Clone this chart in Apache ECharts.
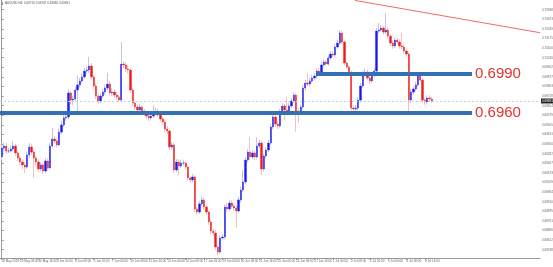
<!DOCTYPE html>
<html><head><meta charset="utf-8">
<script src="https://cdn.jsdelivr.net/npm/echarts@6/dist/echarts.min.js"></script>
<style>html,body{margin:0;padding:0;background:#fff;}#c{width:553px;height:267px;}</style>
</head><body><div id="c"></div>
<script>
const timeLabels = ["28 May 2019","29 May 08:00","30 May 16:00","3 Jun 00:00","4 Jun 08:00","5 Jun 16:00","7 Jun 00:00","10 Jun 08:00","11 Jun 16:00","13 Jun 00:00","14 Jun 08:00","17 Jun 16:00","19 Jun 00:00","20 Jun 08:00","21 Jun 16:00","25 Jun 00:00","26 Jun 08:00","27 Jun 16:00","1 Jul 00:00","2 Jul 08:00","3 Jul 16:00","5 Jul 00:00","8 Jul 08:00","9 Jul 16:00"];
const opens = [0.69257,0.69326,0.69342,0.69303,0.69303,0.69319,0.69342,0.69288,0.69249,0.69218,
0.69195,0.69179,0.69272,0.69334,0.69295,0.69249,0.69218,0.69164,0.69195,0.69148,
0.69226,0.69172,0.69342,0.69396,0.69381,0.69350,0.69450,0.69505,0.69559,0.69567,
0.69753,0.69698,0.69706,0.69776,0.69815,0.69846,0.69877,0.69923,0.69931,0.69962,
0.69877,0.69807,0.69729,0.69691,0.69729,0.69760,0.69791,0.69822,0.69753,0.69760,
0.69737,0.69722,0.69698,0.69977,0.69970,0.69939,0.69931,0.69776,0.69675,0.69644,
0.69621,0.69644,0.69613,0.69590,0.69574,0.69559,0.69574,0.69605,0.69613,0.69582,
0.69551,0.69528,0.69474,0.69458,0.69334,0.69350,0.69156,0.69218,0.69187,0.69210,
0.69210,0.69179,0.69094,0.69079,0.69102,0.68854,0.68830,0.68893,0.68924,0.68869,
0.68830,0.68753,0.68683,0.68668,0.68559,0.68520,0.68629,0.68637,0.68869,0.68854,
0.68900,0.68877,0.68862,0.68838,0.68924,0.69001,0.69063,0.69233,0.69295,0.69257,
0.69288,0.69257,0.69342,0.69365,0.69164,0.69264,0.69311,0.69365,0.69489,0.69567,
0.69512,0.69497,0.69605,0.69652,0.69621,0.69605,0.69652,0.69691,0.69737,0.69613,
0.69605,0.69644,0.69791,0.69830,0.69822,0.69846,0.69869,0.69884,0.69923,0.69915,
0.69970,0.69993,0.69977,0.70024,0.70055,0.70047,0.70109,0.70140,0.70218,0.70148,
0.69985,0.69954,0.69908,0.69636,0.69629,0.69636,0.69698,0.69807,0.69900,0.69915,
0.69869,0.69846,0.69892,0.69923,0.70233,0.70241,0.70256,0.70225,0.70241,0.70194,
0.70140,0.70117,0.70163,0.70148,0.70117,0.70109,0.70078,0.70055,0.69698,0.69760,
0.69784,0.69815,0.69884,0.69853,0.69698,0.69683,0.69714,0.69706];
const closes = [0.69326,0.69342,0.69303,0.69303,0.69319,0.69342,0.69288,0.69249,0.69218,0.69195,
0.69179,0.69272,0.69334,0.69295,0.69249,0.69218,0.69164,0.69195,0.69148,0.69226,
0.69172,0.69342,0.69396,0.69381,0.69350,0.69450,0.69505,0.69559,0.69567,0.69753,
0.69698,0.69706,0.69776,0.69815,0.69846,0.69877,0.69923,0.69931,0.69962,0.69877,
0.69807,0.69729,0.69691,0.69729,0.69760,0.69791,0.69822,0.69753,0.69760,0.69737,
0.69722,0.69698,0.69977,0.69970,0.69939,0.69931,0.69776,0.69675,0.69644,0.69621,
0.69644,0.69613,0.69590,0.69574,0.69559,0.69574,0.69605,0.69613,0.69582,0.69551,
0.69528,0.69474,0.69458,0.69334,0.69350,0.69156,0.69218,0.69187,0.69210,0.69210,
0.69179,0.69094,0.69079,0.69102,0.68854,0.68830,0.68893,0.68924,0.68869,0.68830,
0.68753,0.68683,0.68668,0.68559,0.68520,0.68629,0.68637,0.68869,0.68854,0.68900,
0.68877,0.68862,0.68838,0.68924,0.69001,0.69063,0.69233,0.69295,0.69257,0.69288,
0.69257,0.69342,0.69365,0.69164,0.69264,0.69311,0.69365,0.69489,0.69567,0.69512,
0.69497,0.69605,0.69652,0.69621,0.69605,0.69652,0.69691,0.69737,0.69613,0.69605,
0.69644,0.69791,0.69830,0.69822,0.69846,0.69869,0.69884,0.69923,0.69915,0.69970,
0.69993,0.69977,0.70024,0.70055,0.70047,0.70109,0.70140,0.70218,0.70148,0.69985,
0.69954,0.69908,0.69636,0.69629,0.69636,0.69698,0.69807,0.69900,0.69915,0.69869,
0.69846,0.69892,0.69923,0.70233,0.70241,0.70256,0.70225,0.70241,0.70194,0.70140,
0.70117,0.70163,0.70148,0.70117,0.70109,0.70078,0.70055,0.69698,0.69760,0.69784,
0.69815,0.69884,0.69853,0.69698,0.69683,0.69714,0.69706,0.69691];
const highs = [0.69350,0.69370,0.69365,0.69330,0.69345,0.69380,0.69360,0.69300,0.69265,0.69240,
0.69215,0.69300,0.69365,0.69360,0.69310,0.69265,0.69240,0.69215,0.69210,0.69250,
0.69245,0.69365,0.69481,0.69420,0.69400,0.69475,0.69540,0.69590,0.69600,0.69780,
0.69770,0.69730,0.69800,0.69892,0.69870,0.69905,0.69950,0.69965,0.70032,0.69985,
0.69895,0.69830,0.69745,0.69750,0.69785,0.69815,0.69908,0.69845,0.69790,0.69780,
0.69760,0.69740,0.70148,0.70000,0.69990,0.69965,0.69950,0.69790,0.69690,0.69665,
0.69670,0.69660,0.69630,0.69610,0.69595,0.69600,0.69660,0.69640,0.69630,0.69600,
0.69570,0.69545,0.69495,0.69470,0.69375,0.69365,0.69240,0.69240,0.69235,0.69235,
0.69225,0.69195,0.69110,0.69125,0.69115,0.68870,0.68915,0.68950,0.68940,0.68885,
0.68845,0.68770,0.68700,0.68690,0.68575,0.68650,0.68660,0.68890,0.68900,0.68925,
0.68920,0.68895,0.68880,0.68945,0.69025,0.69156,0.69255,0.69320,0.69412,0.69310,
0.69305,0.69412,0.69390,0.69380,0.69285,0.69335,0.69390,0.69510,0.69598,0.69585,
0.69535,0.69630,0.69675,0.69670,0.69722,0.69675,0.69715,0.69760,0.69755,0.69635,
0.69665,0.69815,0.69855,0.69908,0.69870,0.69895,0.69905,0.69945,0.69945,0.69995,
0.70015,0.70010,0.70045,0.70080,0.70075,0.70130,0.70165,0.70241,0.70235,0.70160,
0.70000,0.69970,0.69925,0.69655,0.69660,0.69720,0.69830,0.69925,0.69940,0.69935,
0.69890,0.69915,0.69945,0.70255,0.70295,0.70280,0.70275,0.70373,0.70260,0.70210,
0.70160,0.70185,0.70180,0.70170,0.70218,0.70130,0.70095,0.70070,0.69785,0.69805,
0.69840,0.69905,0.69905,0.69870,0.69715,0.69735,0.69737,0.69725];
const lows = [0.69233,0.69300,0.69280,0.69285,0.69288,0.69300,0.69265,0.69226,0.69195,0.69160,
0.69133,0.69165,0.69250,0.69270,0.69094,0.69195,0.69140,0.69145,0.69125,0.69130,
0.69150,0.69160,0.69330,0.69360,0.69330,0.69340,0.69430,0.69490,0.69540,0.69550,
0.69670,0.69660,0.69690,0.69605,0.69795,0.69830,0.69860,0.69900,0.69910,0.69860,
0.69785,0.69705,0.69670,0.69675,0.69715,0.69740,0.69775,0.69735,0.69730,0.69715,
0.69700,0.69680,0.69685,0.69950,0.69915,0.69905,0.69755,0.69650,0.69620,0.69600,
0.69605,0.69590,0.69570,0.69550,0.69535,0.69540,0.69560,0.69590,0.69565,0.69530,
0.69505,0.69450,0.69435,0.69310,0.69315,0.69135,0.69140,0.69117,0.69170,0.69190,
0.69160,0.69075,0.69055,0.69060,0.68830,0.68810,0.68815,0.68875,0.68850,0.68810,
0.68730,0.68660,0.68645,0.68535,0.68497,0.68505,0.68610,0.68620,0.68835,0.68840,
0.68860,0.68840,0.68706,0.68820,0.68905,0.68985,0.69045,0.69215,0.69235,0.69240,
0.69235,0.69240,0.69325,0.69117,0.69145,0.69245,0.69295,0.69350,0.69470,0.69490,
0.69475,0.69480,0.69590,0.69543,0.69585,0.69590,0.69635,0.69675,0.69450,0.69520,
0.69590,0.69625,0.69775,0.69805,0.69800,0.69830,0.69850,0.69865,0.69900,0.69900,
0.69955,0.69960,0.69965,0.70010,0.70030,0.70035,0.70095,0.70125,0.70130,0.69965,
0.69935,0.69890,0.69615,0.69598,0.69610,0.69620,0.69680,0.69790,0.69880,0.69850,
0.69825,0.69830,0.69875,0.69905,0.70215,0.70225,0.70205,0.70210,0.70175,0.70120,
0.70095,0.70100,0.70130,0.70095,0.70090,0.70060,0.70035,0.69605,0.69675,0.69740,
0.69765,0.69800,0.69835,0.69675,0.69660,0.69665,0.69690,0.69675];
const priceTicks = [0.70398,0.70323,0.70249,0.70175,0.70100,0.70026,0.69952,0.69877,0.69803,0.69728,0.69654,0.69579,0.69505,0.69431,0.69356,0.69282,0.69207,0.69133,0.69059,0.68984,0.68910,0.68835,0.68761,0.68686,0.68612,0.68538];
const levels = [0.6990, 0.6960];
const levelLabels = ["0.6990", "0.6960"];
const trendPrices = [0.70470, 0.70220];
const bidPrice = 0.69691;
const titleText = "AUDUSD,H4  0.69716 0.69747 0.69680 0.69691";

const BARS_PER_LABEL = 8;
const X_MIN = -0.74, X_MAX = 234.04;
const labelBars = timeLabels.map((_, j) => j * BARS_PER_LABEL);
const wickData = opens.map((o, i) => [i, o, closes[i], lows[i], highs[i]]);
const bodyData = opens.map((o, i) => [i, o, closes[i], Math.min(o, closes[i]), Math.max(o, closes[i])]);

const chart = echarts.init(document.getElementById('c'), null, {renderer: 'canvas'});
const lineBlue = '#3471b2';
const labelRed = '#e8312c';
chart.setOption({
  animation: false,
  backgroundColor: '#ffffff',
  grid: {left: 0, right: 13, top: 0, bottom: 9, containLabel: false, outerBoundsMode: 'none'},
  xAxis: {
    type: 'value', min: X_MIN, max: X_MAX,
    axisLine: {show: true, lineStyle: {color: '#9a9a9a', width: 1}},
    axisTick: {show: true, customValues: labelBars, length: 2, lineStyle: {color: '#9a9a9a'}},
    axisLabel: {show: true, customValues: labelBars, fontSize: 3, color: '#666', align: 'left', margin: 2,
      fontFamily: 'Liberation Sans',
      formatter: v => timeLabels[Math.round(v / BARS_PER_LABEL)] || ''},
    splitLine: {show: false}
  },
  yAxis: {
    type: 'value', position: 'right', min: 0.68474, max: 0.704735, scale: true,
    axisLine: {show: true, lineStyle: {color: '#9a9a9a', width: 1}},
    axisTick: {show: true, customValues: priceTicks, length: 2, lineStyle: {color: '#9a9a9a'}},
    axisLabel: {show: true, customValues: priceTicks, fontSize: 3, color: '#666', margin: 2,
      fontFamily: 'Liberation Sans', formatter: v => v.toFixed(5)},
    splitLine: {show: false}
  },
  graphic: [
    {type: 'rect', left: 1, top: 2, shape: {width: 2, height: 3}, style: {fill: '#999'}},
    {type: 'text', left: 5, top: 2, style: {text: titleText, fontSize: 3, fill: '#555', fontFamily: 'Liberation Sans'}}
  ],
  series: [
    {
      type: 'candlestick', name: 'wicks', data: wickData, encode: {x: 0, y: [1, 2, 3, 4]},
      barWidth: 1, silent: true,
      itemStyle: {color: '#c4c4f2', color0: '#f4c0c0', borderColor: '#c4c4f2', borderColor0: '#f4c0c0', borderWidth: 1}
    },
    {
      type: 'candlestick', name: 'bodies', data: bodyData, encode: {x: 0, y: [1, 2, 3, 4]},
      barWidth: 1.8, silent: true,
      itemStyle: {color: '#1a1aee', color0: '#ee1a1a', borderColor: '#1a1aee', borderColor0: '#ee1a1a', borderWidth: 0.4},
      markLine: {
        silent: true, symbol: 'none', animation: false,
        data: [
          [{coord: [X_MIN, bidPrice], lineStyle: {color: '#cfcfcf', type: [2, 2], width: 1},
            label: {show: true, position: 'end', distance: 1, formatter: bidPrice.toFixed(5), fontSize: 3, color: '#fff', backgroundColor: '#222', padding: [1, 1]}},
           {coord: [X_MAX, bidPrice]}],
          [{coord: [137.1, levels[0]], lineStyle: {color: lineBlue, width: 4, type: 'solid'},
            label: {show: true, position: 'end', distance: 3, formatter: levelLabels[0], color: labelRed, fontSize: 15, fontFamily: 'Liberation Sans'}},
           {coord: [204.5, levels[0]]}],
          [{coord: [X_MIN, levels[1]], lineStyle: {color: lineBlue, width: 4, type: 'solid'},
            label: {show: true, position: 'end', distance: 3, formatter: levelLabels[1], color: labelRed, fontSize: 15, fontFamily: 'Liberation Sans'}},
           {coord: [204.5, levels[1]]}],
          [{coord: [153.6, trendPrices[0]], lineStyle: {color: '#f06a6a', width: 1, type: 'solid'}, label: {show: false}},
           {coord: [X_MAX, trendPrices[1]]}]
        ]
      }
    }
  ]
});
</script></body></html>
